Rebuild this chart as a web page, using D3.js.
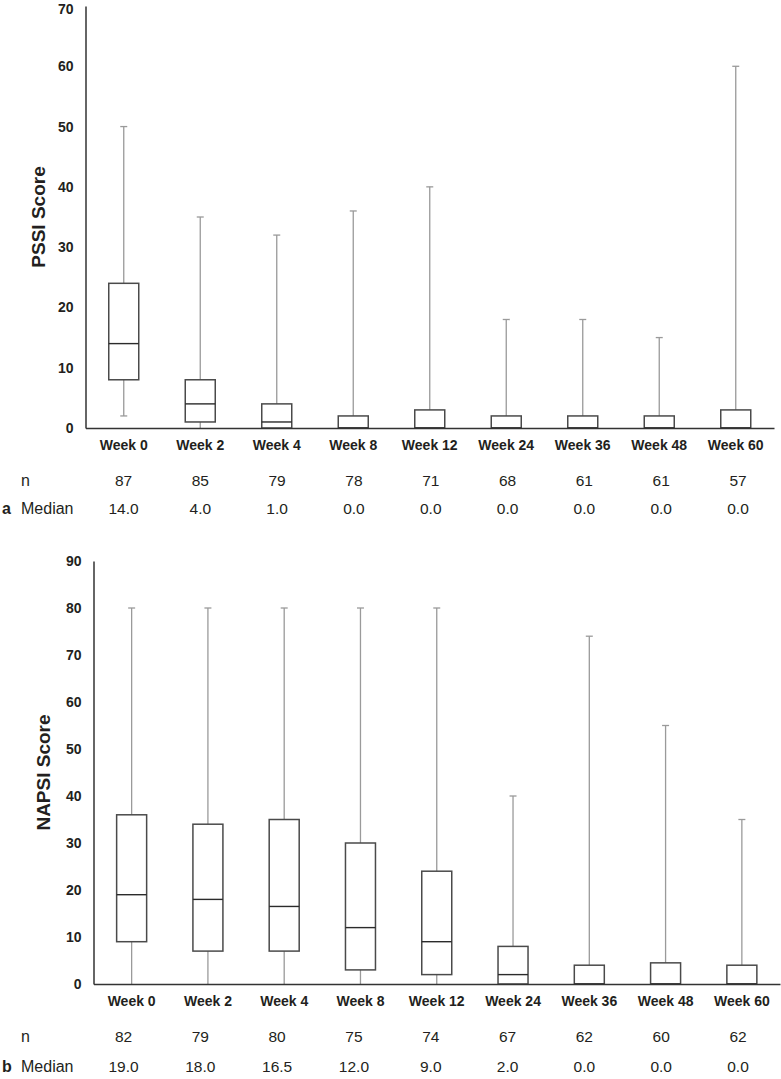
<!DOCTYPE html>
<html>
<head>
<meta charset="utf-8">
<script src="https://cdn.jsdelivr.net/npm/d3@7"></script>
<style>
  body { margin: 0; background: #fff; }
  text { font-family: "Liberation Sans", Arial, sans-serif; fill: #231f20; }
</style>
</head>
<body>
<div id="app"></div>
<script>
// DATA
const weeks = ['Week 0', 'Week 2', 'Week 4', 'Week 8', 'Week 12', 'Week 24', 'Week 36', 'Week 48', 'Week 60'];

// panel a: PSSI
const pssiMin    = [2, 0, 0, 0, 0, 0, 0, 0, 0];
const pssiQ1     = [8, 1, 0, 0, 0, 0, 0, 0, 0];
const pssiMedian = [14, 4, 1, 0, 0, 0, 0, 0, 0];
const pssiQ3     = [24, 8, 4, 2, 3, 2, 2, 2, 3];
const pssiMax    = [50, 35, 32, 36, 40, 18, 18, 15, 60];
const pssiN      = [87, 85, 79, 78, 71, 68, 61, 61, 57];
const pssiTicks  = [0, 10, 20, 30, 40, 50, 60, 70];

// panel b: NAPSI
const napsiMin    = [0, 0, 0, 0, 0, 0, 0, 0, 0];
const napsiQ1     = [9, 7, 7, 3, 2, 0, 0, 0, 0];
const napsiMedian = [19, 18, 16.5, 12, 9, 2, 0, 0, 0];
const napsiQ3     = [36, 34, 35, 30, 24, 8, 4, 4.5, 4];
const napsiMax    = [80, 80, 80, 80, 80, 40, 74, 55, 35];
const napsiN      = [82, 79, 80, 75, 74, 67, 62, 60, 62];
const napsiTicks  = [0, 10, 20, 30, 40, 50, 60, 70, 80, 90];

// LAYOUT
const W = 781, H = 1079;
const BOX_W = 30;
const CAP_W = 7;
const fmt = d3.format('.1f');

const svg = d3.select('#app')
  .append('svg')
  .attr('width', W)
  .attr('height', H);

svg.append('rect').attr('width', W).attr('height', H).attr('fill', '#fff');

// table columns sit at the same place for both panels
const xTable = d3.scalePoint().domain(weeks).range([123.5, 738]);

function drawPanel(p) {
  const g = svg.append('g');

  const x = d3.scaleBand().domain(weeks).range([p.left, p.right]).padding(0);
  const y = d3.scaleLinear().domain([0, p.yMax]).range([p.bottom, p.top]);

  const rows = weeks.map((w, i) => ({
    week: w, min: p.min[i], q1: p.q1[i], med: p.med[i], q3: p.q3[i], max: p.max[i], n: p.n[i]
  }));
  const cx = d => x(d.week) + x.bandwidth() / 2;

  // whiskers
  const wh = g.append('g').attr('stroke', '#9a9a9a').attr('stroke-width', 1.3);
  wh.selectAll('.up').data(rows).enter().append('line')
    .attr('x1', cx).attr('x2', cx)
    .attr('y1', d => y(d.q3)).attr('y2', d => y(d.max));
  wh.selectAll('.down').data(rows.filter(d => d.q1 > d.min)).enter().append('line')
    .attr('x1', cx).attr('x2', cx)
    .attr('y1', d => y(d.q1)).attr('y2', d => y(d.min));
  wh.selectAll('.capTop').data(rows).enter().append('line')
    .attr('x1', d => cx(d) - CAP_W / 2).attr('x2', d => cx(d) + CAP_W / 2)
    .attr('y1', d => y(d.max)).attr('y2', d => y(d.max));
  wh.selectAll('.capBot').data(rows.filter(d => d.min > 0)).enter().append('line')
    .attr('x1', d => cx(d) - CAP_W / 2).attr('x2', d => cx(d) + CAP_W / 2)
    .attr('y1', d => y(d.min)).attr('y2', d => y(d.min));

  // boxes
  g.append('g').selectAll('rect').data(rows).enter().append('rect')
    .attr('x', d => cx(d) - BOX_W / 2)
    .attr('y', d => y(d.q3))
    .attr('width', BOX_W)
    .attr('height', d => y(d.q1) - y(d.q3))
    .attr('fill', '#fff')
    .attr('stroke', '#4a4a4a')
    .attr('stroke-width', 1.5);

  g.append('g').selectAll('line').data(rows).enter().append('line')
    .attr('x1', d => cx(d) - BOX_W / 2).attr('x2', d => cx(d) + BOX_W / 2)
    .attr('y1', d => y(d.med)).attr('y2', d => y(d.med))
    .attr('stroke', '#2b2b2b')
    .attr('stroke-width', 1.4);

  // axes
  const yAxis = g.append('g')
    .attr('transform', `translate(${p.left},0)`)
    .call(d3.axisLeft(y).tickValues(p.ticks).tickSize(0).tickPadding(12).tickSizeOuter(0));
  yAxis.select('.domain').attr('stroke', '#333').attr('stroke-width', 1.5);
  yAxis.selectAll('text')
    .attr('font-size', 14).attr('font-weight', 'bold')
    .attr('font-family', '"Liberation Sans", Arial, sans-serif').attr('fill', '#231f20');
  // keep the top label inside the page
  if (p.top < 10) {
    yAxis.selectAll('.tick').filter(d => d === p.yMax).select('text').attr('dy', '0.55em');
  }

  const xAxis = g.append('g')
    .attr('transform', `translate(0,${p.bottom})`)
    .call(d3.axisBottom(x).tickSize(0).tickPadding(12).tickSizeOuter(0));
  xAxis.select('.domain').attr('stroke', '#333').attr('stroke-width', 1.5);
  xAxis.selectAll('text')
    .attr('font-size', 14).attr('font-weight', 'bold')
    .attr('font-family', '"Liberation Sans", Arial, sans-serif').attr('fill', '#231f20');

  // y label
  g.append('text')
    .attr('transform', `translate(${p.labelX},${(p.top + p.bottom) / 2}) rotate(-90)`)
    .attr('text-anchor', 'middle')
    .attr('dy', '0.35em')
    .attr('font-size', 19)
    .attr('font-weight', 'bold')
    .text(p.label);

  // table under the axis
  g.append('text').attr('x', 21).attr('y', p.nY).attr('font-size', 16).text('n');
  g.append('text').attr('x', 2).attr('y', p.medY).attr('font-size', 16).attr('font-weight', 'bold').text(p.letter);
  g.append('text').attr('x', 21).attr('y', p.medY).attr('font-size', 16).text('Median');

  g.append('g').selectAll('text').data(rows).enter().append('text')
    .attr('x', d => xTable(d.week)).attr('y', p.nY)
    .attr('text-anchor', 'middle').attr('font-size', 15.5)
    .text(d => d.n);
  g.append('g').selectAll('text').data(rows).enter().append('text')
    .attr('x', d => xTable(d.week)).attr('y', p.medY)
    .attr('text-anchor', 'middle').attr('font-size', 15.5)
    .text(d => fmt(d.med));
}

drawPanel({
  left: 85.5, right: 774, top: 6, bottom: 428, yMax: 70, ticks: pssiTicks,
  min: pssiMin, q1: pssiQ1, med: pssiMedian, q3: pssiQ3, max: pssiMax, n: pssiN,
  label: 'PSSI Score', labelX: 38, letter: 'a', nY: 486, medY: 514
});

drawPanel({
  left: 93.5, right: 780, top: 561, bottom: 984, yMax: 90, ticks: napsiTicks,
  min: napsiMin, q1: napsiQ1, med: napsiMedian, q3: napsiQ3, max: napsiMax, n: napsiN,
  label: 'NAPSI Score', labelX: 43, letter: 'b', nY: 1042, medY: 1072
});
</script>
</body>
</html>
